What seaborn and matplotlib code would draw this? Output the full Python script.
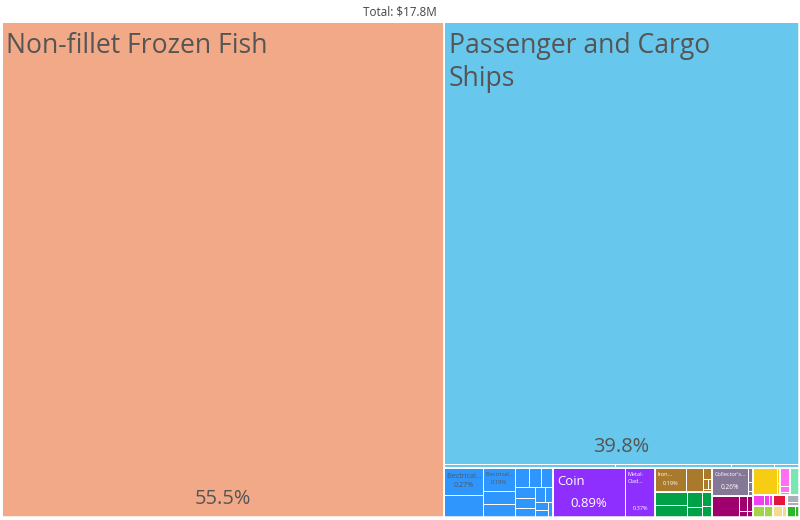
import matplotlib
matplotlib.use("Agg")
import numpy as np
import pandas as pd
import seaborn as sns
import matplotlib.pyplot as plt
from matplotlib.patches import Rectangle
from matplotlib.font_manager import FontProperties

# ---------------- data ----------------
TOTAL_USD = 17.8e6

SECTOR_NAMES = [
    "Animal Products", "Transportation", "Machines", "Precious Metals", "Metals",
    "Textiles", "Arts and Antiques", "Chemical Products", "Foodstuffs", "Instruments",
    "Mineral Products", "Plastics and Rubbers", "Vegetable Products",
    "Footwear and Headwear", "Paper Goods", "Stone and Glass", "Miscellaneous",
]
SECTOR_COLORS = [
    "#F1A987", "#67C7EC", "#2F96FE", "#8E2EFF", "#A97A2C",
    "#00A147", "#857796", "#A0006E", "#F6CD13", "#FF6EF3",
    "#77E8B4", "#EE40EF", "#A2D44B", "#E2163C", "#F3DC8F", "#A9AEBB", "#2CB62C",
]

ITEM_NAMES = [
    "Non-fillet Frozen Fish",
    "Passenger and Cargo Ships", "Special Purpose Ships", "Fishing Ships", "Tug Boats", "Pleasure Boats",
    "Electrical Transformers", "Computers", "Electrical Control Boards", "Centrifuges", "Engine Parts",
    "Pumps", "Valves", "Electric Motors", "Telephones", "Air Conditioners", "Refrigerators",
    "Industrial Printers", "Electric Heaters", "Transmissions", "Liquid Dispersing Machines",
    "Excavation Machinery",
    "Coin", "Metal-Clad Manufactures",
    "Iron Structures", "Aluminium Structures", "Iron Fasteners", "Tools", "Copper Wire", "Iron Pipes",
    "Fishing Nets", "Twine and Rope", "Synthetic Fabrics", "Protective Clothing", "Tarpaulins", "Knit Sweaters",
    "Collector's Items", "Antiques", "Paintings", "Sculptures",
    "Packaged Medicaments", "Cleaning Products", "Paints", "Insecticides", "Perfumes",
    "Processed Fish", "Sauces", "Beverages",
    "Medical Instruments", "Optical Instruments", "Measuring Instruments",
    "Refined Petroleum",
    "Plastic Lids", "Rubber Tires", "Plastic Pipes",
    "Rice", "Coffee",
    "Rubber Footwear", "Hats",
    "Printed Material", "Paper Containers",
    "Glass Bottles", "Cement",
    "Furniture", "Lighting Fixtures",
]
ITEM_SECTOR = (
    [0] + [1] * 5 + [2] * 16 + [3] * 2 + [4] * 6 + [5] * 6 + [6] * 4 + [7] * 5
    + [8] * 3 + [9] * 3 + [10] + [11] * 3 + [12] * 2 + [13] * 2 + [14] * 2 + [15] * 2 + [16] * 2
)
ITEM_SHARE = [
    55.5,
    39.8, 0.169, 0.114, 0.043, 0.024,
    0.27, 0.22, 0.19, 0.105, 0.10, 0.065, 0.06, 0.058, 0.055, 0.05, 0.045, 0.035, 0.03, 0.025, 0.022, 0.018,
    0.894, 0.374,
    0.193, 0.105, 0.027, 0.012, 0.010, 0.009,
    0.10, 0.095, 0.058, 0.036, 0.035, 0.026,
    0.26, 0.016, 0.010, 0.006,
    0.14, 0.03, 0.02, 0.012, 0.008,
    0.17, 0.012, 0.01,
    0.045, 0.013, 0.008,
    0.059,
    0.03, 0.016, 0.01,
    0.03, 0.023,
    0.035, 0.004,
    0.025, 0.012,
    0.02, 0.012,
    0.022, 0.009,
]

# ---------------- style ----------------
sns.set_theme(style="white")
FONT = ["Open Sans", "DejaVu Sans"]
plt.rcParams["font.family"] = FONT

df = pd.DataFrame({
    "item": ITEM_NAMES,
    "sector": [SECTOR_NAMES[i] for i in ITEM_SECTOR],
    "share": ITEM_SHARE,
})
total = df["share"].sum()
df["pct"] = df["share"] / total * 100
sector_color = dict(zip(SECTOR_NAMES, SECTOR_COLORS))

PHI = (1 + 5 ** 0.5) / 2


def squarify(values, x0, y0, x1, y1, ratio=PHI):
    """d3-style squarified treemap layout (values sorted descending)."""
    n = len(values)
    rects = [None] * n
    value = float(sum(values))
    i0 = 0
    while i0 < n:
        dx, dy = x1 - x0, y1 - y0
        i1 = i0
        s = values[i1]
        i1 += 1
        mn = mx = s
        alpha = max(dy / dx, dx / dy) / (value * ratio)
        beta = s * s * alpha
        min_ratio = max(mx / beta, beta / mn)
        while i1 < n:
            v = values[i1]
            s2 = s + v
            mn2, mx2 = min(mn, v), max(mx, v)
            beta = s2 * s2 * alpha
            nr = max(mx2 / beta, beta / mn2)
            if nr > min_ratio:
                break
            s, mn, mx, min_ratio = s2, mn2, mx2, nr
            i1 += 1
        if dx < dy:
            yb = y0 + dy * s / value if i1 < n else y1
            xx = x0
            for i in range(i0, i1):
                w = dx * values[i] / s
                rects[i] = (xx, y0, xx + w, yb)
                xx += w
            y0 = yb
        else:
            xb = x0 + dx * s / value if i1 < n else x1
            yy = y0
            for i in range(i0, i1):
                h = dy * values[i] / s
                rects[i] = (x0, yy, xb, yy + h)
                yy += h
            x0 = xb
        value -= s
        i0 = i1
    return rects


# ---------------- figure ----------------
W, H = 800, 520
fig = plt.figure(figsize=(W / 100, H / 100), dpi=100)
ax = fig.add_axes([0, 0, 1, 1])
ax.set_xlim(0, W)
ax.set_ylim(H, 0)
ax.axis("off")
renderer = fig.canvas.get_renderer()
PT = 0.72  # points per pixel at 100 dpi


def text_w(s, fs_px):
    prop = FontProperties(family=FONT, size=fs_px * PT)
    w, h, d = renderer.get_text_width_height_descent(s, prop, ismath=False)
    return w


def wrap(name, fs, avail, max_lines):
    words = name.split()
    lines, cur, i, truncated = [], "", 0, False
    while i < len(words):
        w = words[i]
        cand = (cur + " " + w) if cur else w
        if text_w(cand, fs) <= avail:
            cur = cand
            i += 1
            continue
        if not cur and "-" in w:
            head, tail = w.split("-", 1)
            if text_w(head + "-", fs) <= avail:
                lines.append(head + "-")
                words[i] = tail
                if len(lines) >= max_lines:
                    truncated = True
                    break
                continue
        if cur:
            if len(lines) + 1 >= max_lines or text_w(w, fs) > avail:
                lines.append(cur)
                truncated = True
                break
            lines.append(cur)
            cur = ""
            continue
        # a single word wider than the box: keep it anyway
        lines.append(w)
        truncated = i + 1 < len(words)
        break
    else:
        if cur:
            lines.append(cur)
    if truncated and lines:
        lines[-1] = lines[-1] + "..."
    return lines


def text_color(hexcol):
    r, g, b = [int(hexcol[k:k + 2], 16) for k in (1, 3, 5)]
    return "#555555" if (r * 299 + g * 587 + b * 114) / 1000 >= 128 else "#FFFFFF"


BOX = (1.5, 21.5, 798.5, 516.5)

sec_tot = df.groupby("sector", sort=False)["share"].sum().sort_values(ascending=False)
sec_rects = squarify(list(sec_tot.values), *BOX)

for sname, srect in zip(sec_tot.index, sec_rects):
    sub = df[df["sector"] == sname].sort_values("share", ascending=False)
    item_rects = squarify(list(sub["share"].values), *srect)
    col = sector_color[sname]
    tcol = text_color(col)
    for (_, row), (x0, y0, x1, y1) in zip(sub.iterrows(), item_rects):
        ax.add_patch(Rectangle((x0, y0), x1 - x0, y1 - y0, facecolor=col,
                               edgecolor="white", linewidth=1.0 * PT))
        w, h = x1 - x0, y1 - y0
        if w < 28 or h < 23:
            continue
        fs = min(26.5, w / 5.5, h / 3.6)
        pad = min(5.0, 1.5 + 0.2 * fs)
        avail = w * 0.92 - 2 * pad
        first = row["item"].split()[0]
        piece = first.split("-")[0] + "-" if "-" in first else first
        fw = text_w(piece, fs)
        pfs = min(fs, 20.0)
        if fw > avail:
            fs = max(4.0, fs * avail * 0.97 / fw)
        first_base = y0 + pad + fs
        pct_base = y1 - (5 + 0.35 * pfs)
        max_lines = max(1, 1 + int(np.floor((pct_base - 1.5 * fs - first_base) / (1.25 * fs))))
        lines = wrap(row["item"], fs, avail, max_lines)
        for k, ln in enumerate(lines):
            ax.text(x0 + pad, first_base + k * 1.25 * fs, ln, ha="left", va="baseline",
                    fontsize=fs * PT, color=tcol, family=FONT)
        pct = row["pct"]
        ptxt = f"{pct:.2f}%" if pct < 1 else f"{pct:.1f}%"
        ax.text((x0 + x1) / 2, pct_base, ptxt, ha="center", va="baseline",
                fontsize=pfs * PT, color=tcol, family=FONT)
    x0, y0, x1, y1 = srect
    ax.add_patch(Rectangle((x0, y0), x1 - x0, y1 - y0, fill=False,
                           edgecolor="white", linewidth=1.5 * PT))

ax.text(W / 2, 11.5, f"Total: ${TOTAL_USD / 1e6:.1f}M", ha="center", va="center",
        fontsize=8.4, color="#444444", family=FONT)

fig.savefig("out.png", dpi=100, facecolor="white")
